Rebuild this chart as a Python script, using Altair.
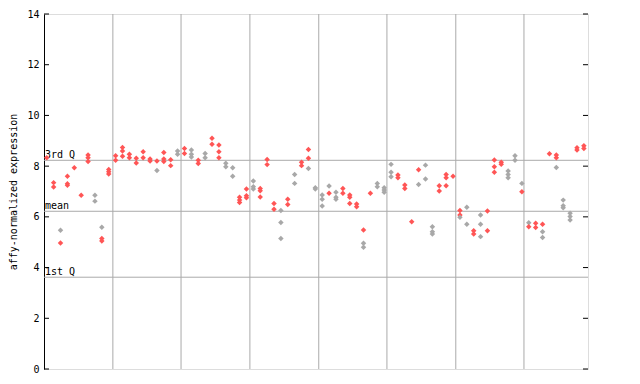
import altair as alt
import pandas as pd

# sample position index, expression value, series (R = red, G = grey)
pos = [0, 1, 1, 2, 2, 3, 3, 3, 4, 5, 6, 6, 6, 7, 7, 8, 8, 8, 9, 9, 9,
       10, 10, 11, 11, 11, 12, 12, 13, 13, 14, 14, 15, 15, 16, 16, 17, 17, 17, 18, 18, 19, 19,
       20, 20, 21, 21, 21, 22, 22, 23, 23, 24, 24, 25, 25, 25, 26, 26, 27, 27, 28, 28, 28, 29, 29, 29,
       30, 30, 30, 31, 31, 31, 32, 32, 33, 33, 34, 34, 34, 35, 35, 36, 36, 37, 37, 38, 38, 38, 39, 39,
       40, 40, 40, 41, 41, 42, 42, 42, 43, 43, 44, 44, 44, 45, 45, 46, 46, 46, 47, 48, 48, 49, 49, 49,
       50, 50, 50, 51, 51, 52, 52, 53, 54, 54, 55, 55, 56, 56, 56, 57, 57, 58, 58, 58, 59,
       60, 60, 60, 61, 61, 62, 62, 63, 63, 63, 64, 64, 65, 65, 65, 66, 66, 67, 67, 67, 68, 68, 69, 69,
       70, 70, 71, 71, 72, 72, 72, 73, 74, 74, 74, 75, 75, 75, 76, 76, 76, 77, 77, 78, 78]
val = [8.33, 7.35, 7.18, 5.47, 4.97, 7.6, 7.31, 7.25, 7.94, 6.85, 8.44, 8.33, 8.18, 6.85, 6.62, 5.59, 5.15, 5.05, 7.87, 7.78, 7.69,
       8.41, 8.23, 8.74, 8.6, 8.39, 8.47, 8.33, 8.31, 8.12, 8.57, 8.33, 8.28, 8.2, 8.2, 7.83, 8.54, 8.28, 8.18, 8.25, 8.02, 8.6, 8.47,
       8.7, 8.5, 8.64, 8.47, 8.36, 8.23, 8.1, 8.5, 8.33, 9.1, 8.86, 8.83, 8.57, 8.33, 8.11, 7.98, 7.94, 7.6, 6.77, 6.66, 6.57, 7.1, 6.83, 6.75,
       7.41, 7.19, 7.1, 7.12, 7.03, 6.78, 8.26, 8.06, 6.53, 6.3, 6.25, 5.78, 5.15, 6.69, 6.49, 7.67, 7.32, 8.15, 8.02, 8.66, 8.31, 7.91, 7.15, 7.1,
       6.86, 6.69, 6.43, 7.22, 6.93, 6.97, 6.77, 6.69, 7.12, 6.93, 6.86, 6.77, 6.53, 6.51, 6.4, 5.48, 4.96, 4.8, 6.93, 7.32, 7.19, 7.15, 7.06, 6.97,
       8.07, 7.76, 7.58, 7.65, 7.54, 7.26, 7.12, 5.81, 7.86, 7.28, 8.04, 7.49, 5.61, 5.41, 5.32, 7.23, 7.02, 7.67, 7.54, 7.23, 7.6,
       6.25, 6.07, 5.98, 6.38, 5.71, 5.45, 5.32, 6.07, 5.71, 5.22, 6.23, 5.45, 8.24, 7.98, 7.76, 8.15, 8.07, 7.81, 7.67, 7.54, 8.41, 8.23, 7.32, 6.99,
       5.77, 5.61, 5.75, 5.58, 5.71, 5.41, 5.19, 8.49, 8.44, 8.33, 7.95, 6.66, 6.44, 6.36, 6.14, 6.01, 5.88, 8.73, 8.64, 8.8, 8.7]
ser = ["R", "R", "R", "G", "R", "R", "R", "R", "R", "R", "R", "R", "R", "G", "G", "G", "R", "R", "R", "R", "R",
       "R", "R", "R", "R", "R", "R", "R", "R", "R", "R", "R", "R", "R", "R", "G", "R", "R", "R", "R", "R", "G", "G",
       "R", "R", "G", "G", "G", "R", "R", "G", "G", "R", "R", "R", "R", "R", "G", "G", "G", "G", "R", "R", "R", "R", "R", "R",
       "G", "G", "G", "R", "R", "R", "R", "R", "R", "R", "G", "G", "G", "R", "R", "G", "G", "R", "R", "R", "R", "G", "G", "G",
       "G", "G", "G", "G", "R", "G", "G", "G", "R", "R", "R", "R", "R", "R", "R", "R", "G", "G", "R", "G", "G", "G", "G", "G",
       "G", "G", "G", "R", "R", "R", "R", "R", "R", "G", "G", "G", "G", "G", "G", "R", "R", "R", "R", "R", "R",
       "R", "R", "G", "G", "G", "R", "R", "G", "G", "G", "R", "R", "R", "R", "R", "R", "R", "G", "G", "G", "G", "G", "G", "R",
       "G", "R", "R", "R", "R", "G", "G", "R", "R", "R", "G", "G", "G", "G", "G", "G", "G", "R", "R", "R", "R"]

grid_x = [9.6, 19.5, 29.5, 39.5, 49.4, 59.4, 69.3]
ref_names = ["3rd Q", "mean", "1st Q"]
ref_vals = [8.23, 6.22, 3.62]
y_ticks = [0, 2, 4, 6, 8, 10, 12, 14]

df = pd.DataFrame({"pos": pos, "val": val, "ser": ser})
grid_df = pd.DataFrame({"g": grid_x})
ref_df = pd.DataFrame({"name": ref_names, "v": ref_vals})
tick_df = pd.DataFrame({"t": y_ticks})

FONT = "DejaVu Sans Mono"
xs = alt.Scale(domain=[-0.4, 78.6], nice=False, zero=False)
ys = alt.Scale(domain=[0, 14], nice=False)

vgrid = alt.Chart(grid_df).mark_rule(color="#aaaaaa", strokeWidth=1).encode(
    x=alt.X("g:Q", scale=xs, axis=None))

hlines = alt.Chart(ref_df).mark_rule(color="#aaaaaa", strokeWidth=1).encode(
    y=alt.Y("v:Q", scale=ys))

hlabels = alt.Chart(ref_df).mark_text(
    align="left", baseline="bottom", font=FONT, fontSize=10, color="black", dx=1, dy=0
).encode(x=alt.value(0), y=alt.Y("v:Q", scale=ys), text="name:N")

pts = alt.Chart(df).mark_point(shape="diamond", filled=True, size=30, opacity=1).encode(
    x=alt.X("pos:Q", scale=xs, axis=None),
    y=alt.Y("val:Q", scale=ys,
            axis=alt.Axis(values=y_ticks, title="affy-normalized expression",
                          grid=False, ticks=False, labelPadding=5,
                          labelFont=FONT, labelFontSize=10, labelColor="black",
                          titleFont=FONT, titleFontSize=10, titleFontWeight="normal",
                          titleColor="black", titlePadding=8,
                          domainColor="black", domainWidth=1)),
    color=alt.Color("ser:N", scale=alt.Scale(domain=["R", "G"], range=["#ff5555", "#a8a8a8"]), legend=None),
)

lticks = alt.Chart(tick_df).mark_rule(color="black").encode(
    y=alt.Y("t:Q", scale=ys), x=alt.value(0), x2=alt.value(5))
rticks = alt.Chart(tick_df).mark_rule(color="black").encode(
    y=alt.Y("t:Q", scale=ys), x=alt.value(539), x2=alt.value(544))

chart = alt.layer(vgrid, hlines, hlabels, pts, lticks, rticks).properties(
    width=544, height=355,
    autosize=alt.AutoSizeParams(type="none"),
    padding={"left": 36, "top": 6, "right": 40, "bottom": 7},
).configure_view(stroke="black", strokeWidth=1).configure(background="white")

chart.save("out.html", embed_options={"renderer": "svg", "actions": False})
